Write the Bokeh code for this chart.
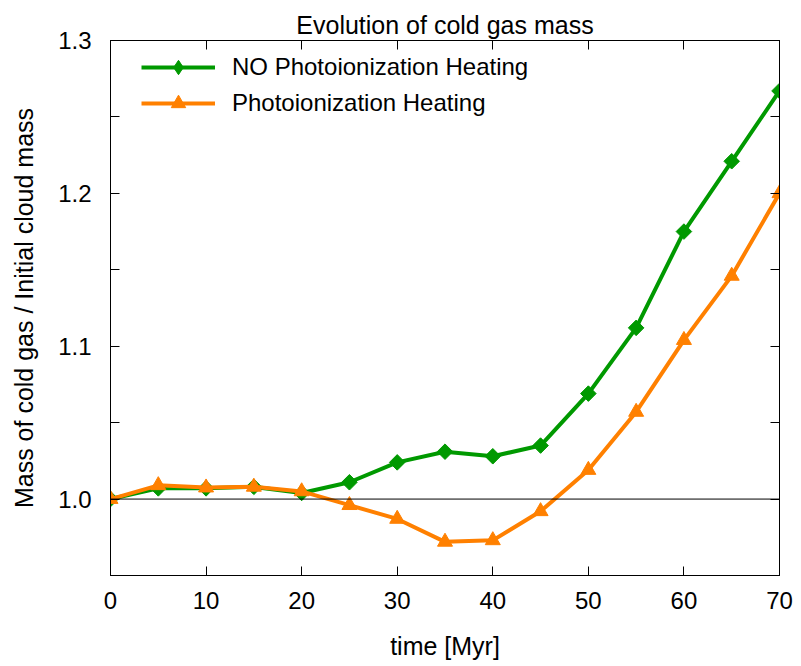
import math
from bokeh.plotting import figure
from bokeh.models import LinearAxis, Span, Legend, LegendItem, FixedTicker, CustomJSTickFormatter, Range1d
from bokeh.embed import file_html
from bokeh.resources import INLINE

time_myr = [0, 5, 10, 15, 20, 25, 30, 35, 40, 45, 50, 55, 60, 65, 70]
no_photo = [1.000, 1.007, 1.007, 1.008, 1.004, 1.011, 1.024, 1.031, 1.028, 1.035, 1.069, 1.112, 1.175, 1.221, 1.267]
photo = [1.000, 1.009, 1.0075, 1.008, 1.005, 0.996, 0.987, 0.972, 0.973, 0.992, 1.019, 1.057, 1.104, 1.146, 1.200]
x_ticks = [0, 10, 20, 30, 40, 50, 60, 70]
y_ticks = [1.0, 1.1, 1.2, 1.3]
y_minor = [0.95, 1.05, 1.15, 1.25]
reference_level = 1.0

FONT = "Liberation Sans"
GREEN = "#009900"
ORANGE = "#ff8000"

p = figure(width=801, height=666, output_backend="svg", toolbar_location=None,
           x_range=Range1d(0, 70), y_range=Range1d(0.95, 1.3),
           min_border_left=110, min_border_right=22, min_border_bottom=91, min_border_top=40,
           x_axis_location=None, y_axis_location=None)
p.grid.visible = False
p.outline_line_color = "black"
p.outline_line_width = 1
p.background_fill_color = "white"
p.border_fill_color = "white"

p.title.text = "Evolution of cold gas mass"
p.title.text_font = FONT
p.title.text_font_size = "25px"
p.title.text_font_style = "normal"
p.title.text_color = "black"
p.title.align = "center"
p.title.vertical_align = "top"
p.title.offset = 0
p.title.standoff = 0

def style_axis(ax, labels=True):
    ax.axis_line_color = "black"
    ax.axis_line_width = 1
    ax.major_tick_in = 9
    ax.major_tick_out = 0
    ax.minor_tick_in = 9
    ax.minor_tick_out = 0
    ax.major_tick_line_color = "black"
    ax.minor_tick_line_color = "black"
    ax.major_label_text_font = FONT
    ax.major_label_text_font_size = "24px"
    ax.major_label_text_color = "black"
    ax.axis_label_text_font = FONT
    ax.axis_label_text_font_size = "25px"
    ax.axis_label_text_font_style = "normal"
    ax.axis_label_text_color = "black"
    if not labels:
        ax.formatter = CustomJSTickFormatter(code="return '';")
        ax.major_label_standoff = 0

xb = LinearAxis(ticker=FixedTicker(ticks=x_ticks), axis_label="time [Myr]")
style_axis(xb)
xb.major_label_standoff = 16
xb.axis_label_standoff = 20
p.add_layout(xb, "below")

xt = LinearAxis(ticker=FixedTicker(ticks=x_ticks))
style_axis(xt, labels=False)
p.add_layout(xt, "above")

yl = LinearAxis(ticker=FixedTicker(ticks=y_ticks, minor_ticks=y_minor),
                axis_label="Mass of cold gas / Initial cloud mass",
                formatter=CustomJSTickFormatter(code="return tick.toFixed(1);"))
style_axis(yl)
yl.major_label_standoff = 19
yl.axis_label_standoff = 17
p.add_layout(yl, "left")

yr = LinearAxis(ticker=FixedTicker(ticks=y_ticks, minor_ticks=y_minor))
style_axis(yr, labels=False)
p.add_layout(yr, "right")

p.add_layout(Span(location=reference_level, dimension="width", line_color="black", line_width=1))

l1 = p.line(time_myr, no_photo, line_color=GREEN, line_width=4)
m1 = p.scatter(time_myr, no_photo, marker="square", angle=math.pi / 4, size=11,
               fill_color=GREEN, line_color=GREEN)
l2 = p.line(time_myr, photo, line_color=ORANGE, line_width=4)
m2 = p.scatter(time_myr, photo, marker="triangle", size=15,
               fill_color=ORANGE, line_color=ORANGE)
# legend-only marker glyph (not visible in the plot) so the legend shows a diamond
d1 = p.scatter(x=[float("nan")], y=[float("nan")], marker="diamond", size=19,
               fill_color=GREEN, line_color=GREEN)

legend = Legend(items=[LegendItem(label="NO Photoionization Heating", renderers=[l1, d1]),
                       LegendItem(label="Photoionization Heating", renderers=[l2, m2])],
                location=(31, 454))
legend.border_line_color = None
legend.background_fill_alpha = 0
legend.label_text_font = FONT
legend.label_text_font_size = "24px"
legend.label_text_color = "black"
legend.glyph_width = 74
legend.glyph_height = 36
legend.label_standoff = 17
legend.spacing = 0
legend.margin = 0
legend.padding = 6
legend.label_height = 36
p.add_layout(legend)

open("out.html", "w").write(file_html(p, INLINE))
